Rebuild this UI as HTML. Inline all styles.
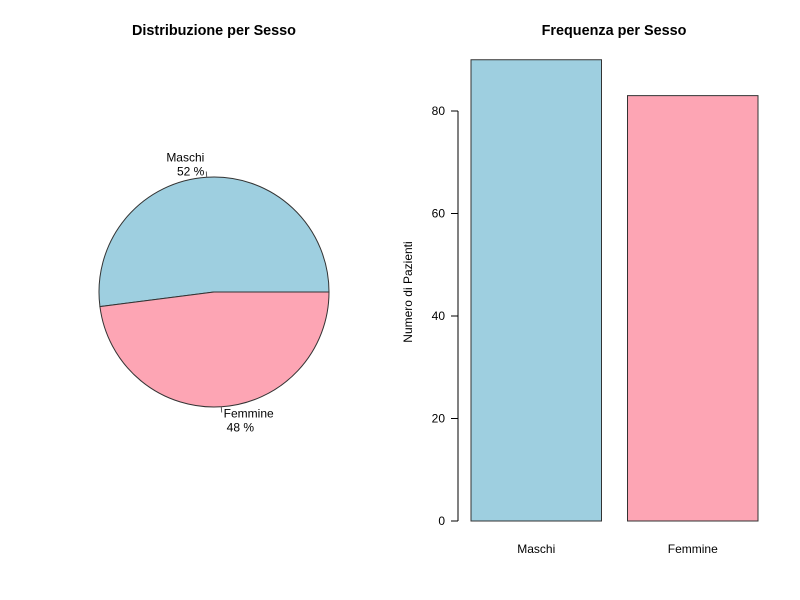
<!DOCTYPE html>
<html><head><meta charset="utf-8"><style>
body{margin:0;background:#fff}
svg{display:block;font-family:"Liberation Sans",Arial,sans-serif}
</style></head><body>
<svg id="c" width="800" height="600" viewBox="0 0 800 600">
<rect width="800" height="600" fill="#fff"/>
<g id="pie"></g>
<g id="bar"></g>
</svg>
<script>
const categories = ["Maschi", "Femmine"];
const counts = [90, 83];
const colors = ["#9ecfe0", "#fda5b4"];
const yTicks = [0, 20, 40, 60, 80];

const NS = "http://www.w3.org/2000/svg";
function mk(parent, tag, attrs, text) {
  const e = document.createElementNS(NS, tag);
  for (const k in attrs) e.setAttribute(k, attrs[k]);
  if (text !== undefined) e.textContent = text;
  parent.appendChild(e);
  return e;
}
const pie = document.getElementById("pie");
const bar = document.getElementById("bar");

// Pie
let t = mk(pie, "text", {x:214, y:35, "text-anchor":"middle", "font-size":14.4, "font-weight":"bold"}, "Distribuzione per Sesso");


const cx = 214, cy = 292, r = 115;
const total = counts.reduce((a, b) => a + b, 0);
let a0 = 0;
counts.forEach((v, i) => {
  const a1 = a0 + v / total * 2 * Math.PI;
  const x0 = cx + r * Math.cos(a0), y0 = cy - r * Math.sin(a0);
  const x1 = cx + r * Math.cos(a1), y1 = cy - r * Math.sin(a1);
  const large = (a1 - a0) > Math.PI ? 1 : 0;
  const p = mk(pie, "path", {d:`M${cx},${cy} L${x0},${y0} A${r},${r} 0 ${large} 0 ${x1},${y1} Z`, fill:colors[i], stroke:"#333", "stroke-width":1});
  
  
  const am = (a0 + a1) / 2;
  const ex = cx + r * Math.cos(am), ey = cy - r * Math.sin(am);
  const tx = cx + r * 1.05 * Math.cos(am), ty = cy - r * 1.05 * Math.sin(am);
  const tick = mk(pie, "line", {x1:ex, y1:ey, x2:tx, y2:ty, stroke:"#555", "stroke-width":1});
  
  
  const left = Math.cos(am) < 0;
  const lx = tx + (left ? -2 : 2);
  const anchor = left ? "end" : "start";
  const ly = ty + (Math.sin(am) > 0 ? -10 : 5);
  const l1 = mk(pie, "text", {x:lx, y:ly, "text-anchor":anchor, "font-size":12}, categories[i]);
  
  
  const pct = Math.round(v / total * 100) + " %";
  const l2 = mk(pie, "text", {x:lx + (left ? 0 : 3), y:ly + 14, "text-anchor":anchor, "font-size":12}, pct);
  
  
  a0 = a1;
});

// Bar
t = mk(bar, "text", {x:614, y:35, "text-anchor":"middle", "font-size":14.4, "font-weight":"bold"}, "Frequenza per Sesso");


const y0px = 521, scale = 410 / 80;
const yS = v => y0px - v * scale;
const ax = mk(bar, "line", {x1:458, y1:yS(0), x2:458, y2:yS(80), stroke:"#000"});


yTicks.forEach(v => {
  const tl = mk(bar, "line", {x1:451, y1:yS(v), x2:458, y2:yS(v), stroke:"#000"});
  
  
  const tx = mk(bar, "text", {x:445, y:yS(v) + 4, "text-anchor":"end", "font-size":12}, String(v));
  
  
});
t = mk(bar, "text", {x:412, y:292, "text-anchor":"middle", "font-size":12, transform:"rotate(-90 412 292)"}, "Numero di Pazienti");


const bw = 130.5, gap = 26, x0b = 471;
counts.forEach((v, i) => {
  const x = x0b + i * (bw + gap);
  const b = mk(bar, "rect", {x:x, y:yS(v), width:bw, height:yS(0) - yS(v), fill:colors[i], stroke:"#333", "stroke-width":1});
  
  
  const l = mk(bar, "text", {x:x + bw / 2, y:553, "text-anchor":"middle", "font-size":12}, categories[i]);
  
  
});
</script>
</body></html>
